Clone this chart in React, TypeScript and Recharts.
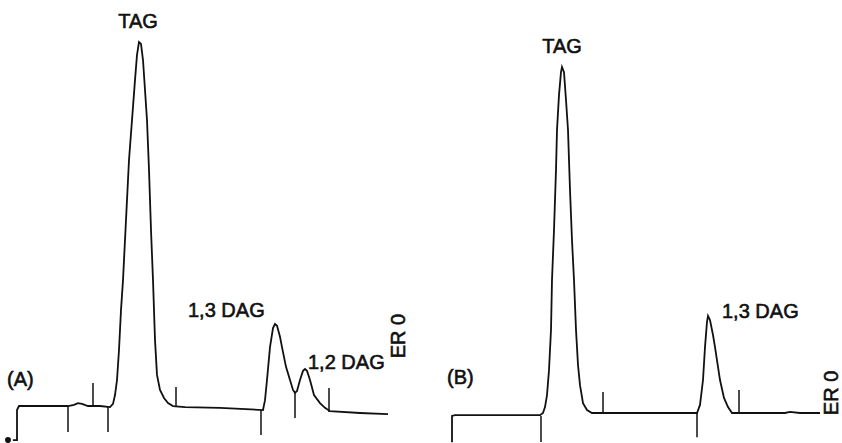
import React from "react";
import { LineChart, Line, XAxis, YAxis, ReferenceLine, ReferenceDot } from "recharts";

// Chromatogram (A): retention time (min) and detector signal (relative units)
const timeA = [0.4, 0.85, 0.85, 0.95, 1.1, 3.4, 3.7, 3.9, 4.1, 4.4, 5.0, 5.5, 5.65, 5.75, 5.85, 5.95, 6.05, 6.15, 6.3, 6.45, 6.6, 6.75, 6.85, 6.95, 7.05, 7.15, 7.25, 7.35, 7.45, 7.55, 7.65, 7.75, 7.85, 8.0, 8.2, 8.4, 8.65, 9.25, 11.0, 13.15, 13.25, 13.35, 13.5, 13.65, 13.75, 13.85, 14.0, 14.1, 14.3, 14.5, 14.65, 14.75, 14.85, 15.0, 15.15, 15.25, 15.35, 15.5, 15.7, 16.0, 16.25, 16.5, 18.0, 19.4];
const signalA = [-9.2, -9.2, -1.0, 0.1, 0.1, 0.1, 0.4, 0.9, 0.7, 0.1, 0.1, -0.2, 0.7, 3.1, 7.2, 15.4, 26.3, 34.5, 50.9, 67.3, 78.2, 89.1, 96.0, 99.5, 99.0, 94.6, 86.4, 78.2, 64.6, 48.2, 34.5, 18.1, 8.6, 4.5, 2.3, 0.9, 0.1, -0.2, -0.4, -1.0, 1.7, 7.2, 16.2, 21.4, 22.5, 22.0, 19.0, 16.2, 10.8, 7.2, 4.5, 3.7, 4.2, 7.2, 9.7, 10.2, 9.7, 7.2, 3.1, 0.9, -0.4, -1.3, -1.8, -2.1];

// Integration marks (A)
const markTimeA = [3.4, 4.65, 5.4, 8.8, 13.05, 14.75, 16.45];
const markFromA = [-0.2, 6.4, -0.2, 5.3, -1.0, 3.7, 5.0];
const markToA = [-7.0, 0.1, -7.0, -0.2, -7.8, -3.2, -1.5];

// Chromatogram (B)
const timeB = [1.6, 1.6, 1.75, 6.0, 6.15, 6.25, 6.35, 6.45, 6.55, 6.6, 6.7, 6.8, 6.85, 6.95, 7.05, 7.1, 7.2, 7.3, 7.4, 7.5, 7.6, 7.7, 7.8, 7.9, 8.0, 8.15, 8.35, 8.6, 11.5, 13.85, 14.0, 14.15, 14.25, 14.35, 14.4, 14.5, 14.65, 14.75, 15.0, 15.2, 15.4, 15.6, 18.25, 18.5, 19.0, 20.0];
const signalB = [-9.8, -2.6, -2.4, -2.4, -1.8, -0.2, 3.1, 9.9, 20.9, 34.5, 48.2, 64.6, 75.5, 85.1, 91.3, 92.7, 91.3, 83.7, 75.5, 59.1, 45.4, 34.5, 20.9, 11.3, 5.8, 0.9, -1.0, -1.8, -1.8, -1.8, 0.4, 7.2, 16.2, 23.1, 24.7, 23.6, 19.5, 16.2, 7.2, 2.3, -0.2, -1.8, -1.8, -1.5, -1.8, -1.8];

// Integration marks (B)
const markTimeB = [6.05, 9.15, 13.85, 15.95];
const markFromB = [-2.6, 3.9, -1.8, 4.5];
const markToB = [-9.7, -1.8, -8.4, -1.8];

// Peak labels
const peakNamesA = ["TAG", "1,3 DAG", "1,2 DAG"];
const peakTimesA = [6.95, 13.75, 15.25];
const peakSignalsA = [99.5, 22.5, 10.2];
const peakNamesB = ["TAG", "1,3 DAG"];
const peakTimesB = [7.1, 14.4];
const peakSignalsB = [92.7, 24.7];

const panelTitles = ["(A)", "(B)"];
const endLabel = "ER 0";

const FONT = "'Liberation Sans', Arial, Helvetica, sans-serif";
const INK = "#111";

const dataA = timeA.map((t, i) => ({ t, s: signalA[i] }));
const dataB = timeB.map((t, i) => ({ t, s: signalB[i] }));

type Off = { dx: number; dy: number; anchor: "start" | "middle" | "end"; rotate?: boolean };

const textShape = (text: string, o: Off) => (p: any) => {
  const x = p.cx + o.dx;
  const y = p.cy + o.dy;
  return (
    <text
      x={x}
      y={y}
      textAnchor={o.anchor}
      fontFamily={FONT}
      fontSize={20}
      fill={INK}
      stroke={INK}
      strokeWidth={0.6}
      transform={o.rotate ? `rotate(-90 ${x} ${y})` : undefined}
    >
      {text}
    </text>
  );
};

const offsetsA: Off[] = [
  { dx: -1, dy: -14, anchor: "middle" },
  { dx: -87, dy: -7, anchor: "start" },
  { dx: 3, dy: 0, anchor: "start" },
];
const offsetsB: Off[] = [
  { dx: 0, dy: -14, anchor: "middle" },
  { dx: 14, dy: 2, anchor: "start" },
];

function Panel(props: {
  data: { t: number; s: number }[];
  markT: number[];
  markFrom: number[];
  markTo: number[];
  names: string[];
  pt: number[];
  ps: number[];
  offs: Off[];
  title: string;
  titleAt: number;
  titleOff: Off;
  endOff: Off;
  width: number;
  xMax: number;
}) {
  const { data } = props;
  const first = data[props.titleAt];
  const last = data[data.length - 1];
  return (
    <LineChart width={props.width} height={443} data={data} margin={{ top: 0, right: 0, bottom: 0, left: 0 }}>
      <XAxis type="number" dataKey="t" domain={[0, props.xMax]} hide allowDataOverflow />
      <YAxis type="number" domain={[-10, 111]} hide allowDataOverflow />
      <Line type="linear" dataKey="s" stroke={INK} strokeWidth={1.8} dot={false} isAnimationActive={false} />
      {props.markT.map((t, i) => (
        <ReferenceLine
          key={"m" + i}
          segment={[
            { x: t, y: props.markFrom[i] },
            { x: t, y: props.markTo[i] },
          ]}
          stroke={INK}
          strokeWidth={1.5}
          ifOverflow="visible"
        />
      ))}
      {props.names.map((n, i) => (
        <ReferenceDot
          key={"p" + i}
          x={props.pt[i]}
          y={props.ps[i]}
          r={1}
          ifOverflow="visible"
          shape={textShape(n, props.offs[i])}
        />
      ))}
      <ReferenceDot x={first.t} y={first.s} r={1} ifOverflow="visible" shape={textShape(props.title, props.titleOff)} />
      <ReferenceDot x={last.t} y={last.s} r={1} ifOverflow="visible" shape={textShape(endLabel, props.endOff)} />
    </LineChart>
  );
}

export default function App() {
  return (
    <div style={{ position: "absolute", left: 0, top: 0, width: 842, height: 443, background: "#fff" }}>
      <div style={{ position: "absolute", left: 0, top: 0 }}>
        <Panel
          data={dataA}
          markT={markTimeA}
          markFrom={markFromA}
          markTo={markToA}
          names={peakNamesA}
          pt={peakTimesA}
          ps={peakSignalsA}
          offs={offsetsA}
          title={panelTitles[0]}
          titleAt={3}
          titleOff={{ dx: -12, dy: -20, anchor: "start" }}
          endOff={{ dx: 17, dy: -78, anchor: "middle", rotate: true }}
          width={420}
          xMax={21}
        />
      </div>
      <div style={{ position: "absolute", left: 420, top: 0 }}>
        <Panel
          data={dataB}
          markT={markTimeB}
          markFrom={markFromB}
          markTo={markToB}
          names={peakNamesB}
          pt={peakTimesB}
          ps={peakSignalsB}
          offs={offsetsB}
          title={panelTitles[1]}
          titleAt={1}
          titleOff={{ dx: -5, dy: -32, anchor: "start" }}
          endOff={{ dx: 18, dy: -20, anchor: "middle", rotate: true }}
          width={422}
          xMax={21.1}
        />
      </div>
    </div>
  );
}
